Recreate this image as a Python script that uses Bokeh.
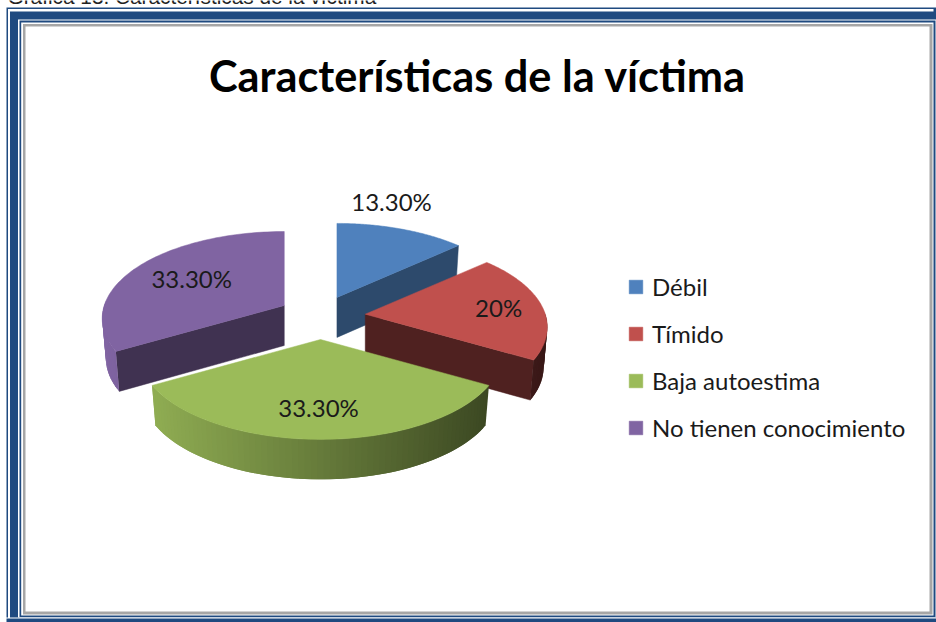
import math
from bokeh.plotting import figure
from bokeh.models import Range1d, Legend, LegendItem
from bokeh.core.properties import value
from bokeh.embed import file_html
from bokeh.resources import INLINE

# ---- data
categories = ["Débil", "Tímido", "Baja autoestima", "No tienen conocimiento"]
shares = [13.3, 20, 33.3, 33.3]
share_labels = ["13.30%", "20%", "33.30%", "33.30%"]
chart_title = "Características de la víctima"
caption = "Gráfica 13. Características de la víctima"

# ---- style
top_colors = ["#4f81bd", "#c0504d", "#9bbb59", "#8064a2"]
cut_shade = [0.57, 0.41, None, 0.50]
cut_edge = [1, 1, None, 0]
label_offsets = [(11, -52), (27, -1), (-4, 13), (-4, -3)]
slice_nudge = [(-3, 1), (0, 0), (-2, 1), (-1, 0)]
CX, CY, RX, RY, K, EX, EY, DEPTH, BOTTOM = 322, 316, 180, 85, 0.149, 43, 22, 40, 0.98
W, H = 936, 622
NAVY, GRAY = "#1f4a80", "#a6a6a6"

p = figure(width=W, height=H, output_backend="svg", toolbar_location=None,
           x_range=Range1d(0, W), y_range=Range1d(H, 0), min_border=0,
           outline_line_color=None, margin=(0, 0, 0, 0))
p.axis.visible = False
p.grid.visible = False
p.background_fill_color = "white"
p.border_fill_color = "white"

def band(l, t, r, b, c):
    p.quad(left=[l], right=[r], top=[t], bottom=[b], fill_color=c, line_color=None)

# page frame (outer to inner)
band(6, 7, 935.5, 622, NAVY)
band(7.5, 8.5, 933, 617.5, "white")
band(9.5, 11, 936, 617.5, NAVY)
band(0, 617, 936, 618, "white")
band(17.5, 19, 936, 617, "white")
band(19, 20, 935, 616.5, NAVY)
band(20.7, 22, 933, 615, "white")
band(22.5, 23.5, 932, 614, GRAY)
band(25, 26, 929, 611, "white")

def proj(theta, r, ox, oy):
    X, Y = r * math.sin(theta), r * math.cos(theta)
    s = 1 / (1 + K * Y)
    return CX + ox + RX * X * s, CY + oy - RY * Y * s

def below(x, y, ox):
    return CX + ox + (x - CX - ox) * BOTTOM, y + DEPTH

def shade(hex_c, f):
    rgb = [int(hex_c[i:i + 2], 16) for i in (1, 3, 5)]
    return "#%02x%02x%02x" % tuple(min(255, int(round(c * f))) for c in rgb)

total = sum(shares)
edges = [0.0]
for v in shares:
    edges.append(edges[-1] + v / total * 2 * math.pi)

slices = []
for i, v in enumerate(shares):
    a0, a1 = edges[i], edges[i + 1]
    mid = (a0 + a1) / 2
    slices.append((a0, a1, mid, EX * math.sin(mid), -EY * math.cos(mid)))

top_renderers = []
for i, (a0, a1, mid, ox0, oy0) in enumerate(slices):
    col = top_colors[i]
    ox, oy = ox0 + slice_nudge[i][0], oy0 + slice_nudge[i][1]
    # cut face, the radial edge facing the viewer
    if cut_shade[i] is not None:
        edge = a1 if cut_edge[i] else a0
        xa, ya = proj(edge, 0, ox, oy)
        xb, yb = proj(edge, 1, ox, oy)
        xa2, ya2 = below(xa, ya, ox)
        xb2, yb2 = below(xb, yb, ox)
        c = shade(col, cut_shade[i])
        p.patch([xa, xb, xb2, xa2], [ya, yb, yb2, ya2],
                fill_color=c, line_color=c, line_width=0.5)
    # outer wall, front-facing part of the rim; strips overlap to avoid seams
    n = max(4, int((a1 - a0) / 0.03))
    wall = [a0 + (a1 - a0) * k / n for k in range(n + 1)]
    for k in range(n):
        t0, t1 = wall[k], wall[min(k + 2, n)]
        if math.cos((wall[k] + wall[k + 1]) / 2) > 0.02:
            continue
        x0, y0 = proj(t0, 1, ox, oy)
        x1, y1 = proj(t1, 1, ox, oy)
        x0b, y0b = below(x0, y0, ox)
        x1b, y1b = below(x1, y1, ox)
        f = 1.0 - 0.0016 * ((x0 + x1) / 2 - 103)
        p.patch([x0, x1, x1b, x0b], [y0, y1, y1b, y0b],
                fill_color=shade(col, f), line_color=None)
    # top face
    pts = [proj(a0 + (a1 - a0) * k / 80, 1, ox, oy) for k in range(81)]
    xa, ya = proj(0, 0, ox, oy)
    xs = [xa] + [q[0] for q in pts]
    ys = [ya] + [q[1] for q in pts]
    top_renderers.append(p.patch(xs, ys, fill_color=col, line_color=col, line_width=0.5))

# data labels
lx, ly = [], []
for (a0, a1, mid, ox, oy), (dx, dy) in zip(slices, label_offsets):
    x, y = proj(mid, 0.6, ox, oy)
    lx.append(x + dx)
    ly.append(y + dy)
p.text(lx, ly, text=share_labels, text_font=value("Lato"), text_font_size="24px",
       text_align="center", text_baseline="middle", text_color="#1a1a1a")

# title and cut-off caption
p.text([477], [74], text=[chart_title], text_font=value("Lato"), text_font_style="bold",
       text_font_size="43.3px", text_align="center", text_baseline="middle", text_color="#000000")
p.text([7], [-4.5], text=[caption], text_font=value("Liberation Sans"), text_font_size="20.8px",
       text_align="left", text_baseline="alphabetic", text_color="#222222")

legend = Legend(items=[LegendItem(label=c, renderers=[r]) for c, r in zip(categories, top_renderers)],
                location=(627, 622 - 442), orientation="vertical", spacing=18, padding=0, margin=0,
                glyph_width=17, glyph_height=17, label_height=17, label_standoff=8,
                label_text_font="Lato", label_text_font_size="24px", label_text_color="#1a1a1a",
                border_line_color=None, background_fill_alpha=0)
p.add_layout(legend, "center")

open("out.html", "w").write(file_html(p, INLINE))
